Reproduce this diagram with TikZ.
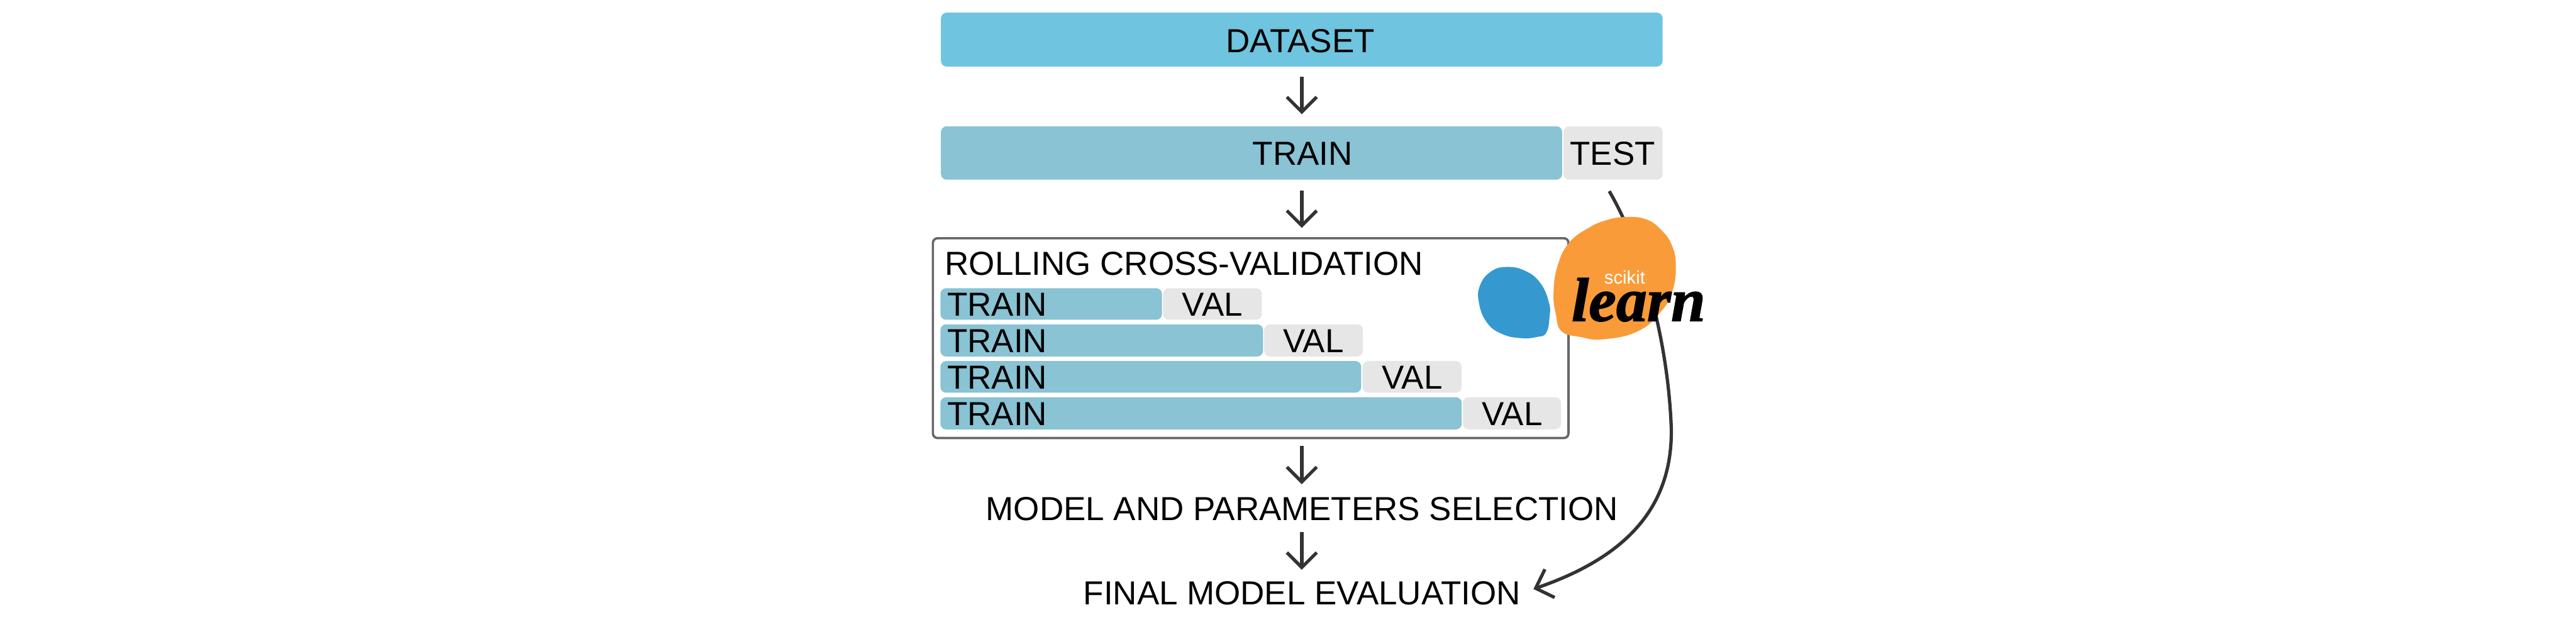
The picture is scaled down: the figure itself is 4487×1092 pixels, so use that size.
\documentclass[tikz,border=0pt]{standalone}
\usepackage{fontspec}
\setmainfont{Liberation Sans}
\newfontfamily\learnfont[FakeBold=1.5]{Liberation Serif}
\usetikzlibrary{arrows.meta}
\definecolor{dscol}{HTML}{6FC4DF}
\definecolor{trcol}{HTML}{89C3D4}
\definecolor{tecol}{HTML}{E6E6E6}
\definecolor{orcol}{HTML}{F99B39}
\definecolor{blcol}{HTML}{3599CF}
\definecolor{arcol}{HTML}{333333}
\definecolor{bdcol}{HTML}{666666}
\newcommand\bx[6]{\node[#2,anchor=north west,minimum width={(#5-#3)*0.2pt},minimum height={(#6-#4)*0.2pt}] (#1) at (#3,#4) {};}
\tikzset{
  barbox/.style={inner sep=0pt,outer sep=0pt,rounded corners=2pt},
  dsbox/.style={barbox,fill=dscol},
  trbox/.style={barbox,fill=trcol},
  tebox/.style={barbox,fill=tecol},
  cvbox/.style={inner sep=0pt,outer sep=0pt,rounded corners=1.6pt,draw=bdcol,line width=0.8pt,fill=white},
  txt/.style={inner sep=0pt,outer sep=0pt,anchor=base,text=black,font=\fontsize{11.6pt}{13pt}\selectfont},
  txtl/.style={txt,anchor=base west},
  flow/.style={draw=arcol,line width=1.15pt,-{Straight Barb[length=5.2pt,width=10.4pt,line width=1.15pt]}},
}
\begin{document}
\begin{tikzpicture}[x=0.2pt,y=-0.2pt]
\useasboundingbox[fill=white] (0,0) rectangle (4487,1092);
% boxes
\bx{dataset}{dsbox}{1639}{22}{2896}{116}
\bx{train}{trbox}{1639}{220}{2721}{313}
\bx{test}{tebox}{2723}{220}{2896}{313}
\bx{cv}{cvbox}{1625}{415}{2732}{763}
\bx{trainA}{trbox}{1638}{502}{2024}{557}
\bx{valA}{tebox}{2026}{502}{2198}{557}
\bx{trainB}{trbox}{1638}{565}{2200}{621}
\bx{valB}{tebox}{2202}{565}{2374}{621}
\bx{trainC}{trbox}{1638}{629}{2371}{684}
\bx{valC}{tebox}{2373}{629}{2546}{684}
\bx{trainD}{trbox}{1638}{692}{2546}{748}
\bx{valD}{tebox}{2548}{692}{2719}{748}
% texts
\node[txt] (tdataset) at (2265,92) {DATASET};
\node[txt] (ttrain) at (2269,288) {TRAIN};
\node[txt] (ttest) at (2809,288) {TEST};
\node[txtl] (tcv) at (1646,479) {ROLLING CROSS-VALIDATION};
\node[txtl] (ttrainA) at (1650,551) {TRAIN};
\node[txtl] (ttrainB) at (1650,614) {TRAIN};
\node[txtl] (ttrainC) at (1650,677) {TRAIN};
\node[txtl] (ttrainD) at (1650,741) {TRAIN};
\node[txt] (tvalA) at (2112,551) {VAL};
\node[txt] (tvalB) at (2288,614) {VAL};
\node[txt] (tvalC) at (2460,677) {VAL};
\node[txt] (tvalD) at (2634,741) {VAL};
\node[txt] (select) at (2268,906) {MODEL AND PARAMETERS SELECTION};
\node[txt] (final) at (2268,1053) {FINAL MODEL EVALUATION};
% free ends of the test connector
\coordinate (testout) at (2803,333);
\coordinate (bend) at (2911,744);
\coordinate (finalin) at (2671,1026);
% connectors
\draw[flow,shorten <=3.6pt,shorten >=4.2pt] (dataset.south) -- (dataset.south |- train.north);
\draw[flow,shorten <=3.8pt,shorten >=3.6pt] (dataset.south |- train.south) -- (dataset.south |- cv.north);
\draw[flow,shorten <=2.8pt,shorten >=4.4pt] (dataset.south |- cv.south) -- (dataset.south |- select.north);
\draw[flow,shorten <=4pt,shorten >=4pt] (dataset.south |- select.south) -- (dataset.south |- final.north);
\draw[flow] (testout) .. controls (2860,430) and (2905,590) .. (bend) .. controls (2915,900) and (2810,978) .. (finalin);
% blobs
\fill[blcol] plot[smooth cycle,tension=0.75] coordinates {(2625,465) (2657,472) (2683,493) (2698,527) (2699,553) (2693,580) (2677,587) (2650,589) (2617,582) (2590,562) (2576,527) (2578,497) (2597,473)};
\fill[orcol] plot[smooth cycle,tension=0.75] coordinates {(2833,378) (2867,382) (2893,400) (2912,427) (2919,463) (2913,507) (2893,543) (2853,577) (2793,591) (2753,587) (2720,577) (2710,547) (2706,510) (2713,463) (2733,423) (2767,397) (2800,383)};
\node[inner sep=0pt,anchor=base,text=white,font=\fontsize{6.4pt}{7pt}\selectfont] (scikit) at (2830,495) {scikit};
\node[inner sep=0pt,anchor=base,text=black,font=\learnfont\bfseries\itshape\fontsize{21.5pt}{24pt}\selectfont] (learn) at (2854,559) {learn};
\end{tikzpicture}
\end{document}
